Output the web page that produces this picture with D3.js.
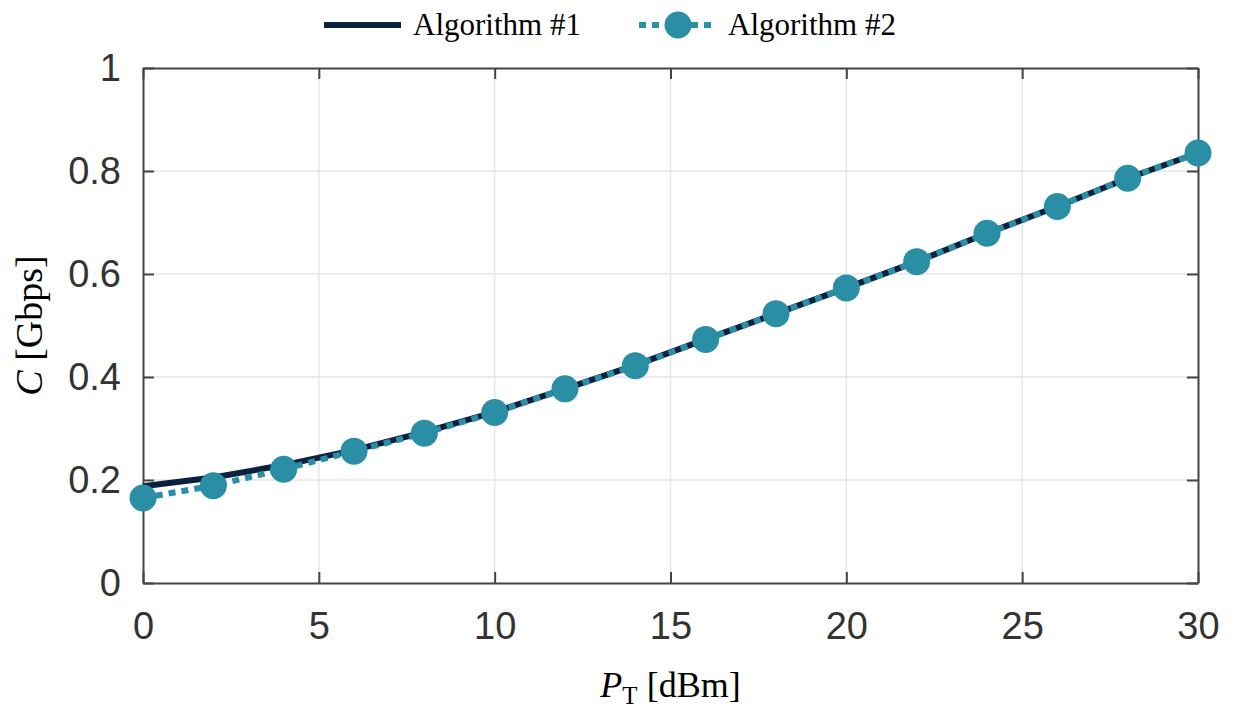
<!DOCTYPE html>
<html>
<head>
<meta charset="utf-8">
<script src="https://cdn.jsdelivr.net/npm/d3@7"></script>
<style>
  html, body { margin: 0; padding: 0; background: #fff; }
  svg { display: block; }
</style>
</head>
<body>
<div id="chart"></div>
<script>
// transmit power P_T [dBm]
const powerDbm = [0, 2, 4, 6, 8, 10, 12, 14, 16, 18, 20, 22, 24, 26, 28, 30];
// capacity C [Gbps]
const algo1 = [0.188, 0.205, 0.229, 0.258, 0.293, 0.332, 0.377, 0.423, 0.473, 0.523, 0.573, 0.624, 0.679, 0.731, 0.786, 0.835];
const algo2 = [0.165, 0.189, 0.221, 0.256, 0.291, 0.331, 0.377, 0.422, 0.473, 0.523, 0.573, 0.624, 0.679, 0.731, 0.786, 0.835];
const seriesNames = ['Algorithm #1', 'Algorithm #2'];
const xTicks = [0, 5, 10, 15, 20, 25, 30];
const yTicks = [0, 0.2, 0.4, 0.6, 0.8, 1];

const W = 1236, H = 708;
const m = { left: 143, right: 38, top: 68, bottom: 125 };
const axisColor = '#444', gridColor = '#e6e6e6';
const navy = '#0c2140', teal = '#2a8fa5';

const svg = d3.select('#chart').append('svg')
  .attr('width', W).attr('height', H);

const x = d3.scaleLinear().domain([0, 30]).range([m.left, W - m.right]);
const y = d3.scaleLinear().domain([0, 1]).range([H - m.bottom, m.top]);

// grid
svg.append('g').selectAll('line.vx')
  .data(xTicks.slice(1, -1)).join('line')
  .attr('x1', d => x(d)).attr('x2', d => x(d))
  .attr('y1', y(0)).attr('y2', y(1))
  .attr('stroke', gridColor).attr('stroke-width', 1.5);
svg.append('g').selectAll('line.hy')
  .data(yTicks.slice(1, -1)).join('line')
  .attr('x1', x(0)).attr('x2', x(30))
  .attr('y1', d => y(d)).attr('y2', d => y(d))
  .attr('stroke', gridColor).attr('stroke-width', 1.5);

// axes: inward ticks on all four sides
const tickLen = 11;
function styleAxis(g) {
  g.select('.domain').attr('stroke', axisColor).attr('stroke-width', 2);
  g.selectAll('.tick line').attr('stroke', axisColor).attr('stroke-width', 2);
  g.selectAll('.tick text')
    .attr('fill', '#333')
    .style('font-family', '"Liberation Sans", Arial, Helvetica, sans-serif')
    .style('font-size', '38px');
}
svg.append('g')
  .attr('transform', `translate(0,${y(0)})`)
  .call(d3.axisBottom(x).tickValues(xTicks).tickSizeInner(-tickLen).tickSizeOuter(0).tickPadding(29))
  .call(styleAxis)
  .call(g => g.selectAll('.tick text').attr('dy', '0.71em'));
svg.append('g')
  .attr('transform', `translate(0,${y(1)})`)
  .call(d3.axisTop(x).tickValues(xTicks).tickSizeInner(-tickLen).tickSizeOuter(0).tickFormat(''))
  .call(styleAxis);
svg.append('g')
  .attr('transform', `translate(${x(0)},0)`)
  .call(d3.axisLeft(y).tickValues(yTicks).tickSizeInner(-tickLen).tickSizeOuter(0).tickPadding(22)
    .tickFormat(d => d === 0 || d === 1 ? d3.format('d')(d) : d3.format('.1f')(d)))
  .call(styleAxis);
svg.append('g')
  .attr('transform', `translate(${x(30)},0)`)
  .call(d3.axisRight(y).tickValues(yTicks).tickSizeInner(-tickLen).tickSizeOuter(0).tickFormat(''))
  .call(styleAxis);

// series
const line = d3.line().x(d => x(d[0])).y(d => y(d[1]));
const s1 = powerDbm.map((p, i) => [p, algo1[i]]);
const s2 = powerDbm.map((p, i) => [p, algo2[i]]);

svg.append('path').datum(s1)
  .attr('d', line).attr('fill', 'none')
  .attr('stroke', navy).attr('stroke-width', 6);
svg.append('path').datum(s2)
  .attr('d', line).attr('fill', 'none')
  .attr('stroke', teal).attr('stroke-width', 6)
  .attr('stroke-dasharray', '7,6');
svg.append('g').selectAll('circle')
  .data(s2).join('circle')
  .attr('cx', d => x(d[0])).attr('cy', d => y(d[1]))
  .attr('r', 13.5).attr('fill', teal);

// axis labels
const serif = '"Liberation Serif", "Times New Roman", Times, serif';
const xl = svg.append('text')
  .attr('x', (x(0) + x(30)) / 2).attr('y', 697)
  .attr('text-anchor', 'middle')
  .style('font-family', serif).style('font-size', '36px').attr('fill', '#000');
xl.append('tspan').attr('font-style', 'italic').text('P');
xl.append('tspan').attr('dy', 7).style('font-size', '25px').text('T');
xl.append('tspan').attr('dy', -7).text(' [dBm]');

const yl = svg.append('text')
  .attr('transform', `translate(42,${(y(0) + y(1)) / 2}) rotate(-90)`)
  .attr('text-anchor', 'middle')
  .style('font-family', serif).style('font-size', '38px').attr('fill', '#000');
yl.append('tspan').attr('font-style', 'italic').text('C');
yl.append('tspan').text(' [Gbps]');

// legend
const leg = svg.append('g').style('font-family', serif).style('font-size', '31px');
const ly = 25;
leg.append('line').attr('x1', 324).attr('x2', 401).attr('y1', ly).attr('y2', ly)
  .attr('stroke', navy).attr('stroke-width', 6);
leg.append('text').attr('x', 413).attr('y', ly + 10).text(seriesNames[0]);
leg.append('line').attr('x1', 639).attr('x2', 716).attr('y1', ly).attr('y2', ly)
  .attr('stroke', teal).attr('stroke-width', 6).attr('stroke-dasharray', '7,6');
leg.append('circle').attr('cx', 678).attr('cy', ly).attr('r', 13.5).attr('fill', teal);
leg.append('text').attr('x', 728).attr('y', ly + 10).text(seriesNames[1]);
</script>
</body>
</html>
